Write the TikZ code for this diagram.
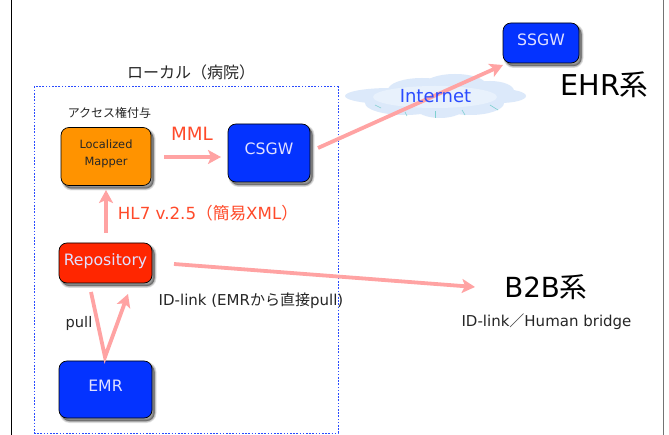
\documentclass[tikz,border=0pt]{standalone}
\usepackage{fontspec}
\setmainfont{DejaVu Sans}
\newfontfamily\jp{Noto Sans CJK JP}
\usetikzlibrary{arrows.meta,shadows,calc}
\definecolor{pinkline}{HTML}{FFA3A3}
\definecolor{boxblue}{HTML}{0433FF}
\definecolor{boxred}{HTML}{FF2600}
\definecolor{boxorange}{HTML}{FF9300}
\definecolor{labelred}{HTML}{FF4A2A}
\definecolor{cloudfill}{HTML}{DCE9FA}
\definecolor{cloudin}{HTML}{E8F1FC}
\definecolor{tick}{HTML}{7FD0D0}
\definecolor{frameblue}{HTML}{2A4BFF}
\tikzset{
  softshadow/.style={general shadow={shadow xshift=2.5pt,shadow yshift=-3pt,draw=black,fill=black,line width=#1,opacity=0.11}},
  box/.style={draw=black,line width=0.7pt,rounded corners=8pt,inner sep=0pt,
    softshadow=4pt,softshadow=2.6pt,softshadow=1.3pt,softshadow=0.2pt},
  flow/.style={draw=pinkline,line width=3.8pt,-{Stealth[length=13pt,width=14pt,inset=3pt]}},
  txt/.style={inner sep=0pt,text=black!85},
  wht/.style={text=white!88!blue,font=\fontsize{15.7}{18}\selectfont},
  red/.style={inner sep=0pt,text=labelred},
}
\begin{document}
\begin{tikzpicture}[x=1pt,y=-1pt]
\useasboundingbox (0,0) rectangle (669,435);
\fill[white] (0,0) rectangle (669,435);
\coordinate (lt) at (11.5,0); \coordinate (lb) at (11.5,435);
\coordinate (rt) at (663.5,0); \coordinate (rb) at (663.5,435);
\draw[black,line width=0.8pt] (lt) -- (lb);
\draw[black!55,line width=1.2pt] (rt) -- (rb);
% local frame
\node[draw=frameblue,dash pattern=on 1.6pt off 1.6pt,line width=1pt,minimum width=304pt,minimum height=346pt,inner sep=0pt] (frame) at (186,260) {};
% cloud
\foreach \cx/\cy/\rx/\ry in {390/96/45/8,500/96/26/7,422/90/34/12,455/86/32/12,490/91/24/10,
  405/103/40/12,440/107/25/11,470/103/34/12}{
  \fill[cloudfill] (\cx,\cy) ellipse [x radius=\rx,y radius=\ry];
}
\fill[cloudin] (435,97) ellipse [x radius=62,y radius=11];
\foreach \ax/\ay/\bx/\by in {375/105/381/108,405/112/407/116,435.5/111/435.5/118,462/110/465/115,490/105/498/110}{
  \draw[tick,line width=0.6pt] (\ax,\ay) -- (\bx,\by);
}
% boxes
\node[box,fill=boxorange,minimum width=90pt,minimum height=58pt] (map) at (106,156.5) {};
\node[inner sep=0pt,align=center,text=black!85,font=\fontsize{11.4}{17}\selectfont] (maptxt) at (106,154) {Localized\\Mapper};
\node[box,fill=boxblue,minimum width=82pt,minimum height=58pt] (csgw) at (269,153) {};
\node[wht] (csgwtxt) at (269,149) {CSGW};
\node[box,fill=boxred,minimum width=93pt,minimum height=40pt] (repo) at (105.5,263) {};
\node[wht] (repotxt) at (105.5,261) {Repository};
\node[box,fill=boxblue,minimum width=93pt,minimum height=57pt] (emr) at (105.5,389.5) {};
\node[wht] (emrtxt) at (105.5,385.5) {EMR};
\node[box,fill=boxblue,minimum width=76pt,minimum height=40pt] (ssgw) at (541,43) {};
\node[wht] (ssgwtxt) at (541,40) {SSGW};
% connector end points
\coordinate (a1) at (164,157); \coordinate (a2) at (221,157);
\coordinate (b1) at (106,233); \coordinate (b2) at (106,190);
\coordinate (c1) at (174,264); \coordinate (c2) at (475,287);
\coordinate (d1) at (91,292);  \coordinate (d2) at (105,357); \coordinate (d3) at (128,294);
\coordinate (e1) at (318,148); \coordinate (e2) at (503,65);
\draw[flow] (a1) -- (a2);
\draw[flow] (b1) -- (b2);
\draw[flow] (c1) -- (c2);
\draw[flow,line join=miter] (d1) -- (d2) -- (d3);
\draw[flow] (e1) -- (e2);
% labels
\node[inner sep=0pt,text=frameblue,font=\fontsize{18}{20}\selectfont] (inet) at (435.5,96.5) {Internet};
\node[txt,font=\fontsize{16}{18}\jp] (local) at (191,72.5) {ローカル（病院）};
\node[txt,font=\fontsize{12}{14}\jp] (acc) at (109.5,113) {アクセス権付与};
\node[red,font=\fontsize{18.3}{20}\selectfont] (mml) at (192,134) {MML};
\node[red,font=\fontsize{16.7}{19}\selectfont] (hl7) at (208,213) {HL7 v.2.5{\jp（簡易}XML{\jp）}};
\node[txt,font=\fontsize{15}{17}\selectfont] (idl) at (251,301) {ID-link (EMR{\jp から直接}pull)};
\node[txt,font=\fontsize{14.6}{16}\selectfont] (pull) at (79,323.5) {pull};
\node[txt,text=black,font=\fontsize{28.7}{31}\selectfont] (ehr) at (604.5,85) {EHR{\jp 系}};
\node[txt,text=black,font=\fontsize{27.7}{30}\selectfont] (b2b) at (546,287) {B2B{\jp 系}};
\node[txt,font=\fontsize{15}{17}\selectfont] (hb) at (546.5,322) {ID-link{\jp ／}Human bridge};
\end{tikzpicture}
\end{document}
